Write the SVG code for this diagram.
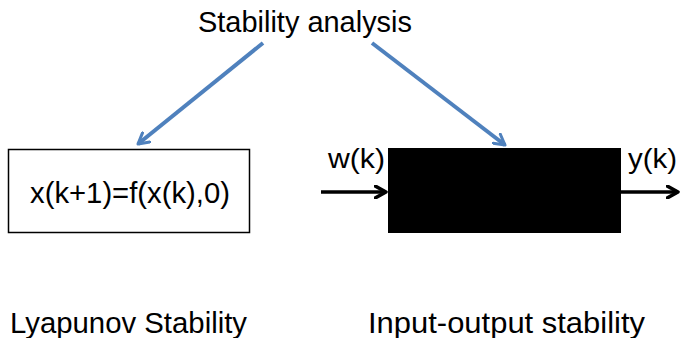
<svg xmlns="http://www.w3.org/2000/svg" width="683" height="338" viewBox="0 0 683 338">
  <style>
    text { font-family: "Liberation Sans", Arial, sans-serif; fill: #000; }
    .big { font-size: 30px; }
    .eq { font-size: 29px; }
    .lbl { font-size: 27px; }
    .blue { stroke: #4F81BD; stroke-width: 4; fill: none; }
    .sig { stroke: #000; stroke-width: 3.5; fill: none; }
  </style>
  <defs>
    <marker id="openBlue" viewBox="0 0 12 12" refX="10" refY="6" markerWidth="14" markerHeight="14" markerUnits="userSpaceOnUse" orient="auto">
      <path d="M1,1 L10,6 L1,11" fill="none" stroke="#4F81BD" stroke-width="2.6" stroke-linecap="round" stroke-linejoin="round"/>
    </marker>
    <marker id="openBlack" viewBox="0 0 12 12" refX="10" refY="6" markerWidth="14" markerHeight="14" markerUnits="userSpaceOnUse" orient="auto">
      <path d="M1,1 L10,6 L1,11" fill="none" stroke="#000" stroke-width="3" stroke-linecap="round" stroke-linejoin="round"/>
    </marker>
  </defs>

  <g id="title">
    <text class="big" x="305" y="32" text-anchor="middle" textLength="214" lengthAdjust="spacingAndGlyphs">Stability analysis</text>
  </g>

  <g id="lyapunov-model">
    <rect x="8.5" y="149.5" width="241" height="83" fill="#fff" stroke="#000" stroke-width="1.5"/>
    <text class="eq" x="130" y="203" text-anchor="middle" textLength="200" lengthAdjust="spacingAndGlyphs">x(k+1)=f(x(k),0)</text>
  </g>

  <g id="io-system">
    <rect x="388" y="148" width="233" height="85" fill="#000"/>
    <text class="lbl" x="328" y="168" textLength="57" lengthAdjust="spacingAndGlyphs">w(k)</text>
    <text class="lbl" x="628" y="168" textLength="49" lengthAdjust="spacingAndGlyphs">y(k)</text>
  </g>

  <g id="captions">
    <text class="big" x="10" y="333" textLength="237" lengthAdjust="spacingAndGlyphs">Lyapunov Stability</text>
    <text class="big" x="368" y="333" textLength="277" lengthAdjust="spacingAndGlyphs">Input-output stability</text>
  </g>

  <g id="connectors">
    <line class="blue" x1="263" y1="43" x2="138" y2="144" marker-end="url(#openBlue)"/>
    <line class="blue" x1="372" y1="43" x2="505" y2="145" marker-end="url(#openBlue)"/>
    <line class="sig" x1="321" y1="192" x2="386" y2="192" marker-end="url(#openBlack)"/>
    <line class="sig" x1="621" y1="192" x2="678" y2="192" marker-end="url(#openBlack)"/>
  </g>
</svg>
